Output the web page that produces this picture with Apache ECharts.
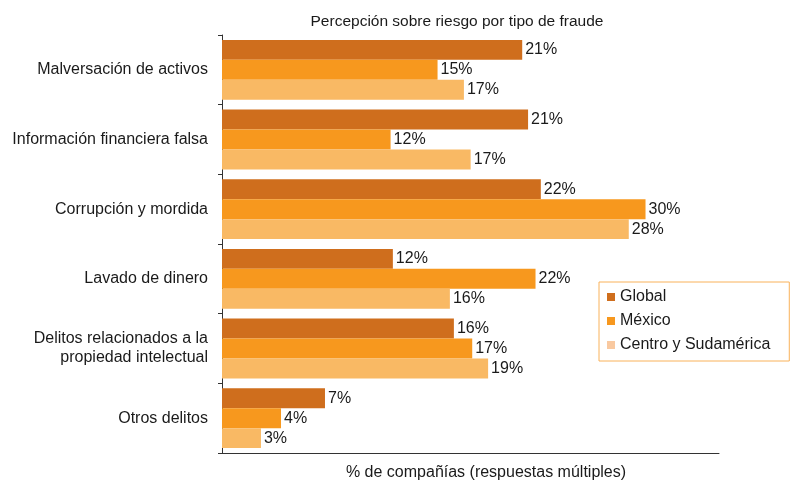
<!DOCTYPE html>
<html>
<head>
<meta charset="utf-8">
<script src="https://cdn.jsdelivr.net/npm/echarts@6/dist/echarts.min.js"></script>
<style>html,body{margin:0;padding:0;background:#fff;}#c{width:791px;height:480px;}</style>
</head>
<body>
<div id="c"></div>
<script>
const categories = [
  "Malversación de activos",
  "Información financiera falsa",
  "Corrupción y mordida",
  "Lavado de dinero",
  "Delitos relacionados a la\npropiedad intelectual",
  "Otros delitos"
];
const seriesNames = ["Global", "México", "Centro y Sudamérica"];
const globalValues = [20.96, 21.37, 22.26, 11.93, 16.19, 7.19];
const mexicoValues = [15.05, 11.77, 29.57, 21.89, 17.47, 4.12];
const centroValues = [16.89, 17.36, 28.40, 15.91, 18.58, 2.72];
const chartTitle = "Percepción sobre riesgo por tipo de fraude";
const axisTitle = "% de compañías (respuestas múltiples)";
const colors = ["#CF6E1D", "#F7981E", "#F9B964"];
const legendIconColors = ["#CF6E1D", "#F7981E", "#F9C9A0"];

const FONT = "'Liberation Sans', Arial, sans-serif";
const chart = echarts.init(document.getElementById('c'), null, {renderer: 'canvas'});

function mkSeries(name, data, color) {
  return {
    name: name,
    type: 'bar',
    data: data,
    barGap: '0%',
    barCategoryGap: '14%',
    itemStyle: {color: color},
    label: {
      show: true,
      position: 'right',
      distance: 3,
      fontFamily: FONT,
      fontSize: 16,
      color: '#1a1a1a',
      formatter: p => Math.round(p.value) + '%'
    },
    emphasis: {disabled: true}
  };
}

chart.setOption({
  animation: false,
  backgroundColor: '#ffffff',
  title: [
    {
      text: chartTitle,
      left: 452, top: 9, textAlign: 'center',
      textStyle: {fontFamily: FONT, fontSize: 15.5, fontWeight: 'normal', color: '#1a1a1a'}
    },
    {
      text: axisTitle,
      left: 481, top: 460, textAlign: 'center',
      textStyle: {fontFamily: FONT, fontSize: 16, fontWeight: 'normal', color: '#1a1a1a'}
    }
  ],
  legend: {
    orient: 'vertical',
    left: 599, top: 282,
    padding: [7, 19, 8, 8],
    itemGap: 8,
    itemWidth: 8, itemHeight: 8,
    icon: 'rect',
    borderColor: '#F9B25A',
    borderWidth: 1,
    textStyle: {fontFamily: FONT, fontSize: 16, color: '#1a1a1a'},
    data: seriesNames.map((n, i) => ({name: n, itemStyle: {color: legendIconColors[i]}}))
  },
  grid: {left: 222, right: 72, top: 35, bottom: 27, containLabel: false},
  xAxis: {
    type: 'value',
    min: 0, max: 34.7,
    axisLine: {show: true, lineStyle: {color: '#333', width: 1}},
    axisTick: {show: false},
    axisLabel: {show: false},
    splitLine: {show: false}
  },
  yAxis: {
    type: 'category',
    inverse: true,
    data: categories,
    axisLine: {show: true, lineStyle: {color: '#333', width: 1}},
    axisTick: {show: true, length: 4, lineStyle: {color: '#333'}},
    axisLabel: {
      fontFamily: FONT, fontSize: 16, color: '#1a1a1a',
      margin: 14, lineHeight: 19, align: 'right'
    }
  },
  series: [
    mkSeries(seriesNames[0], globalValues, colors[0]),
    mkSeries(seriesNames[1], mexicoValues, colors[1]),
    mkSeries(seriesNames[2], centroValues, colors[2])
  ]
});
</script>
</body>
</html>
